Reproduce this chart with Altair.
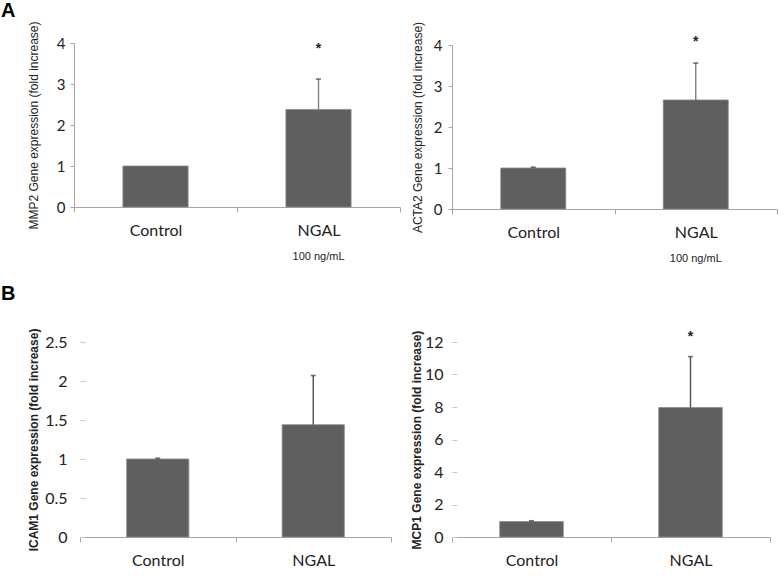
import altair as alt
import pandas as pd

# Treatment groups shared by all four panels
groups = ["Control", "NGAL"]

# Fold-increase means and upper error (SD) for each gene
mmp2_mean = [1.0, 2.38]
mmp2_err = [0.0, 0.74]
acta2_mean = [1.0, 2.66]
acta2_err = [0.02, 0.90]
icam1_mean = [1.0, 1.44]
icam1_err = [0.01, 0.63]
mcp1_mean = [0.95, 7.97]
mcp1_err = [0.05, 3.13]

# Significance marker height (data units) per panel, None when not significant
mmp2_star = [None, 3.93]
acta2_star = [None, 4.15]
icam1_star = [None, None]
mcp1_star = [None, 12.5]

dose_note = "100 ng/mL"

BAR = "#5f5f5f"
AXIS = "#a6a6a6"
TEXT = "#222222"


def panel(gene, means, errs, stars, ymax, yvalues, width, height,
          xrange=None, yrange=None, bold_title=False, tick_font=15,
          label_pad=5, title_x=-41, y_offset=0, y_domain=True,
          err_color="#808080", note=None, letter=None, letter_xy=(0, 0)):
    df = pd.DataFrame({
        "group": groups,
        "mean": means,
        "top": [m + e for m, e in zip(means, errs)],
        "err": errs,
        "star": stars,
    })

    xscale = alt.Scale(paddingInner=0, paddingOuter=0, domain=groups)
    if xrange is not None:
        xscale = alt.Scale(paddingInner=0, paddingOuter=0, domain=groups, range=xrange)
    yscale = alt.Scale(domain=[0, ymax], nice=False, zero=True)
    if yrange is not None:
        yscale = alt.Scale(domain=[0, ymax], nice=False, zero=True, range=yrange)

    xaxis = alt.Axis(
        title=None, labelAngle=0, domainColor=AXIS, tickColor=AXIS,
        tickSize=5, tickBand="extent", labelFont="Lato", labelFontSize=16,
        labelColor=TEXT, labelPadding=10, grid=False,
    )
    yaxis = alt.Axis(
        title=f"{gene} Gene expression (fold increase)", values=yvalues,
        format="~g", grid=False, domain=y_domain, domainColor=AXIS,
        tickColor=AXIS if y_domain else "#c8c8c8", tickSize=4 if y_domain else 5,
        offset=y_offset, labelFont="Lato", labelFontSize=tick_font,
        labelColor=TEXT, labelPadding=label_pad, titleFont="Liberation Sans",
        titleFontSize=12, titleFontWeight="bold" if bold_title else "normal",
        titleColor=TEXT, titleX=title_x, titleBaseline="middle",
    )

    x = alt.X("group:N", scale=xscale, axis=xaxis, sort=groups)
    base = alt.Chart(df)

    bars = base.mark_bar(
        width=alt.RelativeBandSize(0.4), color=BAR, stroke="#8a8a8a", strokeWidth=0.8
    ).encode(x=x, y=alt.Y("mean:Q", scale=yscale, axis=yaxis))

    errs_df = base.transform_filter("datum.err > 0")
    err_line = errs_df.mark_rule(color=err_color, strokeWidth=1.4).encode(
        x=x, y=alt.Y("mean:Q", scale=yscale, axis=yaxis), y2="top:Q"
    )
    err_cap = errs_df.mark_tick(
        orient="horizontal", size=5, thickness=1.6, color="#3a3a3a"
    ).encode(x=x, y=alt.Y("top:Q", scale=yscale, axis=yaxis))

    stars_layer = base.transform_filter("isValid(datum.star)").mark_text(
        text="*", font="Liberation Sans", fontSize=14, fontWeight="bold",
        color=TEXT, baseline="alphabetic", dy=7,
    ).encode(x=x, y=alt.Y("star:Q", scale=yscale, axis=yaxis))

    layers = [bars, err_line, err_cap, stars_layer]

    if note is not None:
        note_df = pd.DataFrame({"group": ["NGAL"], "note": [note]})
        layers.append(
            alt.Chart(note_df).mark_text(
                font="Liberation Sans", fontSize=11, color=TEXT, baseline="middle"
            ).encode(x=x, y=alt.value(height + 50), text="note:N")
        )

    if letter is not None:
        letter_df = pd.DataFrame({"t": [letter]})
        layers.append(
            alt.Chart(letter_df).mark_text(
                font="Liberation Sans", fontSize=20, fontWeight="bold",
                color="#000000", align="left", baseline="top",
            ).encode(x=alt.value(letter_xy[0]), y=alt.value(letter_xy[1]), text="t:N")
        )

    return alt.layer(*layers).properties(width=width, height=height)


mmp2 = panel("MMP2", mmp2_mean, mmp2_err, mmp2_star, 4, [0, 1, 2, 3, 4],
             326, 164, label_pad=5, title_x=-41, note=dose_note,
             letter="A", letter_xy=(-73, -42))
acta2 = panel("ACTA2", acta2_mean, acta2_err, acta2_star, 4, [0, 1, 2, 3, 4],
              325, 166, yrange=[166, 2], label_pad=6, title_x=-35, note=dose_note)
icam1 = panel("ICAM1", icam1_mean, icam1_err, icam1_star, 2.5,
              [0, 0.5, 1, 1.5, 2, 2.5], 317, 195, xrange=[6, 317],
              bold_title=True, tick_font=16, label_pad=13, title_x=-51.5,
              y_offset=-11, y_domain=False, err_color="#4d4d4d",
              letter="B", letter_xy=(-73, -58))
mcp1 = panel("MCP1", mcp1_mean, mcp1_err, mcp1_star, 12,
             [0, 2, 4, 6, 8, 10, 12], 318, 195, bold_title=True, tick_font=16,
             label_pad=9, title_x=-40.5, y_offset=-5, y_domain=False,
             err_color="#4d4d4d")

chart = alt.ConcatChart(
    concat=[mmp2, acta2, icam1, mcp1],
    columns=2,
    spacing=alt.RowColnumber(row=133, column=52),
    bounds="flush",
    align="each",
    autosize=alt.AutoSizeParams(type="none"),
    padding={"left": 74, "top": 43, "right": 710, "bottom": 537},
    background="white",
).resolve_scale(x="independent", y="independent").configure_view(strokeWidth=0)

chart.save("out.html", embed_options={"renderer": "svg", "actions": False})
